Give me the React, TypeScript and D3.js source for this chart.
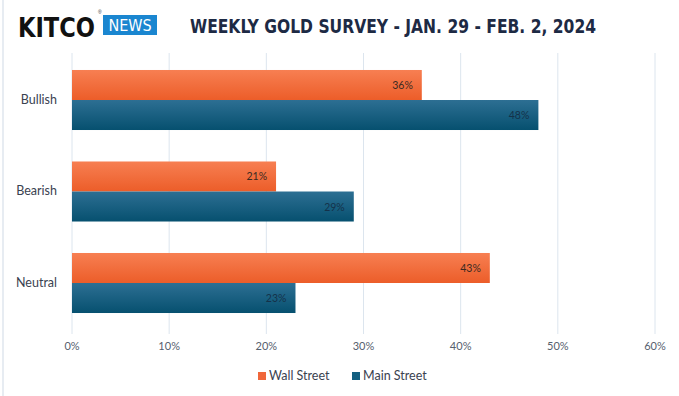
import React from "react";
import * as d3 from "d3";

const categories = ["Bullish", "Bearish", "Neutral"];
const seriesNames = ["Wall Street", "Main Street"];
const wallStreet = [36, 21, 43];
const mainStreet = [48, 29, 23];
const xTicks = [0, 10, 20, 30, 40, 50, 60];

const W = 679;
const H = 396;
const left = 72;
const right = 655;

const colors = {
  "Wall Street": { top: "#f77f52", bottom: "#ec5d29", swatch: "#f0673a" },
  "Main Street": { top: "#2d6f93", bottom: "#06506f", swatch: "#135f80" },
};

export default function App() {
  const x = d3.scaleLinear().domain([0, 60]).range([left, right]);
  const y = d3
    .scaleBand()
    .domain(categories)
    .range([54.25, 328.75])
    .paddingInner(0.344)
    .paddingOuter(0.172);
  const sub = d3.scaleBand().domain(seriesNames).range([0, y.bandwidth()]);

  const rows = categories.map((c, i) => ({
    cat: c,
    values: [
      { name: "Wall Street", v: wallStreet[i] },
      { name: "Main Street", v: mainStreet[i] },
    ],
  }));

  const font = "'Liberation Sans Narrow', 'DejaVu Sans Condensed', 'Liberation Sans', sans-serif";
  const labelFont = "Lato, 'Open Sans', sans-serif";

  return (
    <svg
      width={W}
      height={H}
      style={{ position: "absolute", left: 0, top: 0, background: "#fff" }}
    >
      <defs>
        {seriesNames.map((s, i) => (
          <linearGradient key={s} id={`g${i}`} x1="0" y1="0" x2="0" y2="1">
            <stop offset="0%" stopColor={colors[s].top} />
            <stop offset="100%" stopColor={colors[s].bottom} />
          </linearGradient>
        ))}
      </defs>

      {/* faint left frame */}
      <line x1={3} x2={3} y1={0} y2={H} stroke="#dfe6ee" strokeWidth={1.5} />

      {/* logo */}
      <text
        x={18}
        y={37}
        fontFamily={font}
        fontWeight="bold"
        fontSize={26}
        fill="#111"
        textLength={77}
        lengthAdjust="spacingAndGlyphs"
      >
        KITCO
      </text>
      <text x={98} y={14} fontFamily="sans-serif" fontSize={5} fill="#333">®</text>
      <rect x={103} y={15} width={54} height={20} fill="#1a86d0" />
      <text
        x={130}
        y={31}
        textAnchor="middle"
        fontFamily={font}
        fontSize={16}
        fill="#fff"
      >
        NEWS
      </text>

      {/* title */}
      <text
        x={190}
        y={33}
        fontFamily={font}
        fontWeight="bold"
        fontSize={20}
        fill="#1d2a44"
        textLength={406}
        lengthAdjust="spacingAndGlyphs"
      >
        WEEKLY GOLD SURVEY - JAN. 29 - FEB. 2, 2024
      </text>

      {/* gridlines */}
      {xTicks.map((t) => (
        <g key={t}>
          <line x1={x(t)} x2={x(t)} y1={53} y2={334} stroke="#dce5ee" strokeWidth={1} />
          <text
            x={x(t)}
            y={350}
            textAnchor="middle"
            fontFamily={labelFont}
            fontSize={11}
            fill="#56606e"
          >
            {t}%
          </text>
        </g>
      ))}

      {/* bars */}
      {rows.map((r) => (
        <g key={r.cat} transform={`translate(0,${y(r.cat)})`}>
          <text
            x={57}
            y={y.bandwidth() / 2 + 4}
            textAnchor="end"
            fontFamily={labelFont}
            fontSize={12.5}
            fill="#3a4250"
          >
            {r.cat}
          </text>
          {r.values.map((d, j) => (
            <g key={d.name}>
              <rect
                x={x(0)}
                y={sub(d.name)}
                width={x(d.v) - x(0)}
                height={sub.bandwidth()}
                fill={`url(#g${j})`}
              />
              <text
                x={x(d.v) - 9}
                y={(sub(d.name) || 0) + sub.bandwidth() / 2 + 4}
                textAnchor="end"
                fontFamily={labelFont}
                fontSize={10.5}
                fill={j === 0 ? "#3a2a22" : "#14324a"}
              >
                {d.v}%
              </text>
            </g>
          ))}
        </g>
      ))}

      {/* legend */}
      <rect x={258} y={372} width={8} height={8} fill={colors["Wall Street"].swatch} />
      <text x={269} y={380} fontFamily={labelFont} fontSize={12.5} fill="#3a4250">
        Wall Street
      </text>
      <rect x={352} y={372} width={8} height={8} fill={colors["Main Street"].swatch} />
      <text x={363} y={380} fontFamily={labelFont} fontSize={12.5} fill="#3a4250">
        Main Street
      </text>
    </svg>
  );
}
